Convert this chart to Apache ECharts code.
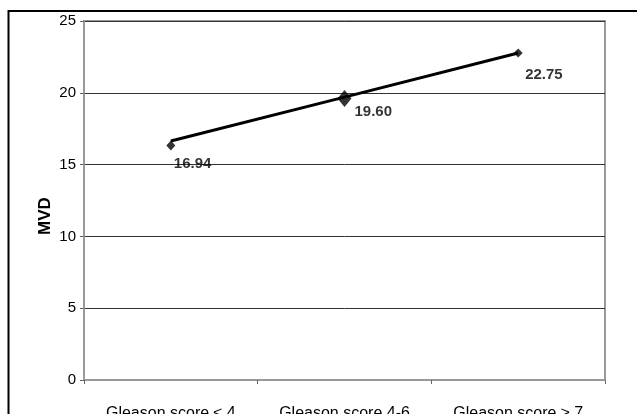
<!DOCTYPE html>
<html>
<head>
<meta charset="utf-8">
<script src="https://cdn.jsdelivr.net/npm/echarts@6/dist/echarts.min.js"></script>
<style>
html,body{margin:0;padding:0;background:#fff;}
#chart{width:637px;height:414px;}
</style>
</head>
<body>
<div id="chart"></div>
<script>
// Data
const categories = ['Gleason score \u2264 4', 'Gleason score 4-6', 'Gleason score \u2265 7'];
const markerValues = [16.33, 19.61, 22.77];
const labelTexts = ['16.94', '19.60', '22.75'];
const trendValues = [16.64, 19.70, 22.77];
const yTicks = [0, 5, 10, 15, 20, 25];

const FONT = 'Liberation Sans, Arial, sans-serif';
const markerSizes = [[9, 10], [14, 17], [9, 9]];
const labelOffsets = [[3, 18], [10, 13], [7, 22]];

const chart = echarts.init(document.getElementById('chart'), null, {renderer: 'canvas'});
chart.setOption({
  animation: false,
  backgroundColor: '#fff',
  graphic: [
    {type: 'rect', shape: {x: 8.5, y: 11, width: 700, height: 500},
     style: {fill: 'none', stroke: '#000', lineWidth: 2}, z: 0},
    {type: 'text', x: 45, y: 216, rotation: Math.PI / 2,
     style: {text: 'MVD', font: 'bold 17px ' + FONT, fill: '#000', align: 'center', verticalAlign: 'middle'}}
  ],
  grid: {left: 84, right: 32, top: 21, bottom: 34, show: true, borderColor: '#999', borderWidth: 2,
         backgroundColor: 'transparent', containLabel: false, outerBoundsMode: 'none'},
  xAxis: {
    type: 'category',
    data: categories,
    boundaryGap: true,
    axisLine: {lineStyle: {color: '#999', width: 2}},
    axisTick: {show: true, length: 4, lineStyle: {color: '#666'}},
    axisLabel: {color: '#000', fontSize: 16, fontFamily: FONT, margin: 26, interval: 0}
  },
  yAxis: {
    type: 'value',
    min: yTicks[0],
    max: yTicks[yTicks.length - 1],
    interval: 5,
    axisLine: {show: true, lineStyle: {color: '#999', width: 2}},
    axisTick: {show: true, length: 4, lineStyle: {color: '#666'}},
    axisLabel: {color: '#000', fontSize: 15, fontFamily: FONT, margin: 8},
    splitLine: {show: true, lineStyle: {color: '#333', width: 1}}
  },
  series: [
    {
      type: 'line',
      data: trendValues,
      symbol: 'none',
      lineStyle: {color: '#000', width: 3},
      z: 3
    },
    {
      type: 'scatter',
      data: markerValues.map((v, i) => ({
        value: v,
        symbolSize: markerSizes[i],
        label: {
          show: true,
          position: 'inside',
          formatter: labelTexts[i],
          align: 'left',
          verticalAlign: 'middle',
          offset: labelOffsets[i],
          color: '#000',
          textBorderWidth: 0,
          fontSize: 15,
          fontWeight: 'bold',
          fontFamily: FONT
        }
      })),
      symbol: 'diamond',
      itemStyle: {color: '#000'},
      z: 4
    }
  ]
});
</script>
</body>
</html>
